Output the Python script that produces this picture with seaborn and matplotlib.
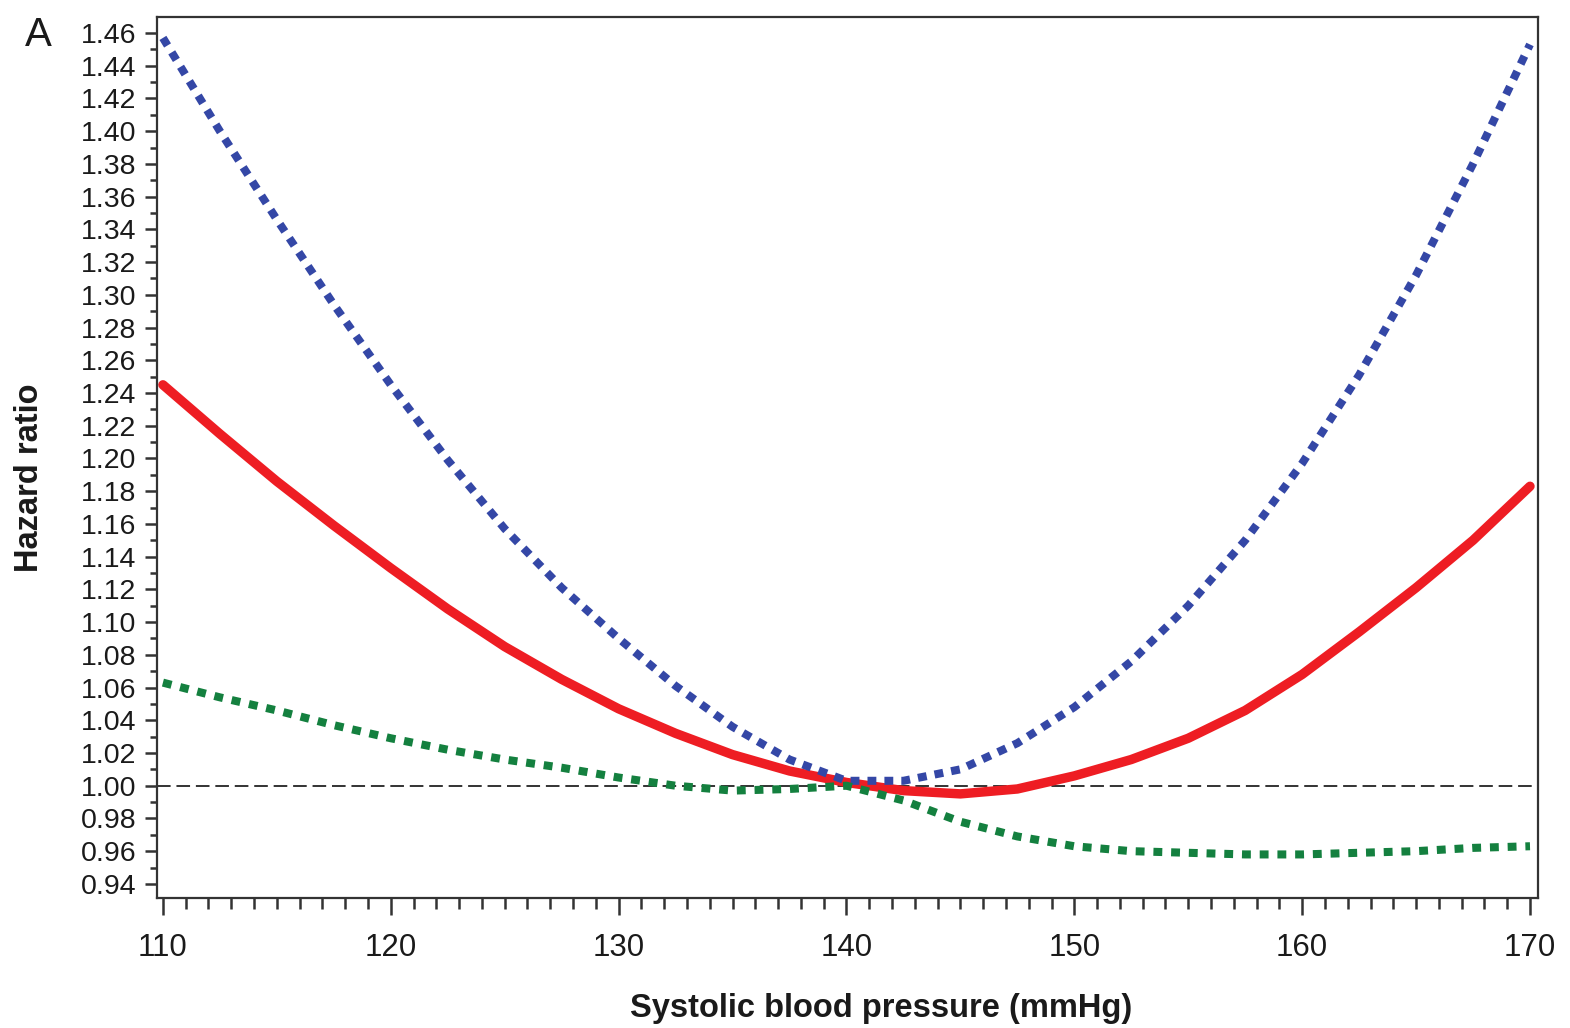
import numpy as np
import pandas as pd
import matplotlib
matplotlib.use("Agg")
import matplotlib.pyplot as plt
from matplotlib.ticker import MultipleLocator, FormatStrFormatter
import seaborn as sns

# systolic blood pressure grid (mmHg)
sbp = [110, 112.5, 115, 117.5, 120, 122.5, 125, 127.5, 130, 132.5, 135, 137.5,
       140, 142.5, 145, 147.5, 150, 152.5, 155, 157.5, 160, 162.5, 165, 167.5, 170]

# hazard ratios
hr_blue = [1.457, 1.400, 1.346, 1.294, 1.245, 1.199, 1.157, 1.121, 1.090, 1.061, 1.036, 1.016,
           1.003, 1.003, 1.010, 1.026, 1.048, 1.076, 1.110, 1.150, 1.197, 1.251, 1.312, 1.380, 1.453]
hr_red = [1.245, 1.215, 1.186, 1.159, 1.133, 1.108, 1.085, 1.065, 1.047, 1.032, 1.019, 1.009,
          1.002, 0.997, 0.995, 0.998, 1.006, 1.016, 1.029, 1.046, 1.068, 1.094, 1.121, 1.150, 1.183]
hr_green = [1.063, 1.054, 1.046, 1.037, 1.029, 1.022, 1.016, 1.011, 1.005, 1.000, 0.997, 0.998,
            1.000, 0.991, 0.978, 0.969, 0.963, 0.960, 0.959, 0.958, 0.958, 0.959, 0.960, 0.962, 0.963]

df = pd.DataFrame({"sbp": sbp, "blue": hr_blue, "red": hr_red, "green": hr_green})

sns.set_style("ticks")
plt.rcParams['font.family'] = ['Liberation Sans', 'DejaVu Sans']

fig = plt.figure(figsize=(15.7, 10.28), dpi=100)
ax = fig.add_axes([0.1, 0.1265, 0.8796, 0.857])

ax.axhline(1.0, color="#333333", lw=1.4, linestyle=(0, (7, 3)), zorder=1)

sns.lineplot(data=df, x="sbp", y="blue", ax=ax, color="#3447A6", lw=5.8,
             linestyle=(0, (1.1, 1.0)), dash_capstyle="butt", zorder=3)
sns.lineplot(data=df, x="sbp", y="red", ax=ax, color="#EE1D23", lw=6.8,
             solid_capstyle="round", zorder=2)
sns.lineplot(data=df, x="sbp", y="green", ax=ax, color="#14803F", lw=5.8,
             linestyle=(0, (1.1, 1.1)), dash_capstyle="butt", zorder=4)

ax.set_xlim(109.74, 170.35)
ax.set_ylim(0.9314, 1.4698)
ax.xaxis.set_major_locator(MultipleLocator(10))
ax.xaxis.set_minor_locator(MultipleLocator(1))
ax.yaxis.set_major_locator(MultipleLocator(0.02))
ax.yaxis.set_minor_locator(MultipleLocator(0.01))
ax.yaxis.set_major_formatter(FormatStrFormatter("%.2f"))

ax.tick_params(axis="x", which="major", length=12, width=1.8, labelsize=22.5, pad=13,
               color="#333333", labelcolor="#1a1a1a")
ax.tick_params(axis="x", which="minor", length=8, width=1.8, color="#333333")
ax.tick_params(axis="y", which="major", length=9, width=1.8, labelsize=20.5, pad=6,
               color="#333333", labelcolor="#1a1a1a")
ax.tick_params(axis="y", which="minor", length=5, width=1.8, color="#333333")

for s in ax.spines.values():
    s.set_linewidth(1.6)
    s.set_color("#333333")

ax.set_xlabel("Systolic blood pressure (mmHg)", fontsize=23.5, fontweight="bold",
              color="#1a1a1a", va="center")
ax.set_ylabel("Hazard ratio", fontsize=23.5, fontweight="bold", color="#1a1a1a", va="center")
ax.xaxis.set_label_coords(0.5245, -0.125)
ax.yaxis.set_label_coords(-0.092, 0.477)

fig.text(0.016, 0.966, "A", fontsize=29, ha="left", va="center", color="#1a1a1a")

fig.savefig("out.png", dpi=100)
